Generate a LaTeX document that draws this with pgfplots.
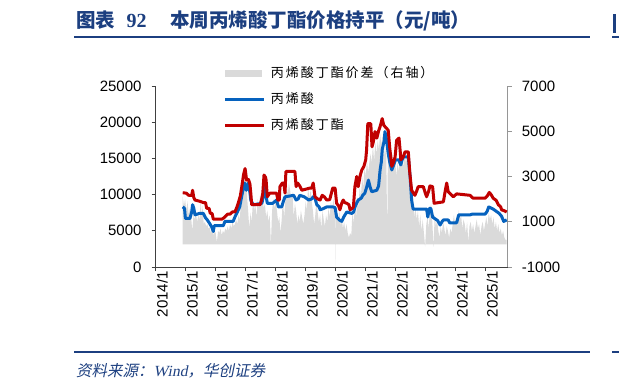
\documentclass[border=0pt]{standalone}
\usepackage{pgfplots}
\pgfplotsset{compat=1.18}
\usepackage{fontspec}
\setmainfont{Liberation Sans}
\newfontfamily\tnr{Liberation Serif}
\newfontfamily\cjk{Noto Sans CJK SC}
\newfontfamily\cjksp{Noto Sans CJK SC}[LetterSpace=15]
\newfontfamily\cjkit{Noto Sans CJK SC}[FakeSlant=0.2]
\newfontfamily\tnrit{Liberation Serif}[FakeSlant=0.2]
\definecolor{titleblue}{RGB}{28,63,128}
\definecolor{areagray}{RGB}{218,218,218}
\definecolor{lblue}{RGB}{6,98,190}
\definecolor{lred}{RGB}{192,0,0}
\definecolor{axgray}{RGB}{150,150,150}

\pgfplotstableread{
x y
2014.90 0
2014.90 2100
2014.94 1700
2014.98 2000
2015.02 1500
2015.06 1900
2015.10 1300
2015.14 1600
2015.18 1200
2015.22 600
2015.26 1300
2015.30 1100
2015.34 1400
2015.38 1000
2015.42 1300
2015.46 1100
2015.50 1900
2015.53 1200
2015.56 1700
2015.60 900
2015.64 1000
2015.68 800
2015.72 900
2015.76 700
2015.80 750
2015.84 500
2015.88 700
2015.92 400
2015.96 600
2016.00 500
2016.04 100
2016.08 600
2016.12 500
2016.16 700
2016.20 400
2016.24 600
2016.28 500
2016.32 700
2016.36 600
2016.40 800
2016.44 600
2016.48 900
2016.52 700
2016.56 1000
2016.60 800
2016.64 900
2016.68 1100
2016.72 900
2016.76 1300
2016.80 1100
2016.84 1800
2016.88 2400
2016.92 3300
2016.96 2700
2017.00 3000
2017.04 2200
2017.08 1500
2017.12 700
2017.16 1400
2017.20 1000
2017.24 1900
2017.28 1500
2017.32 1800
2017.36 1200
2017.40 2000
2017.44 1600
2017.48 2200
2017.52 1900
2017.56 2200
2017.60 1600
2017.64 1800
2017.68 1200
2017.72 1500
2017.76 1000
2017.80 1300
2017.84 0
2017.88 1500
2017.92 2000
2017.96 1600
2018.00 1900
2018.04 1500
2018.08 1000
2018.12 1200
2018.16 500
2018.20 1100
2018.24 2100
2018.28 1200
2018.32 1900
2018.36 2800
2018.40 2200
2018.44 2700
2018.48 2400
2018.52 2000
2018.56 2300
2018.60 1200
2018.64 1800
2018.68 1500
2018.72 900
2018.76 1300
2018.80 1000
2018.84 1500
2018.88 1200
2018.92 900
2018.96 1300
2019.00 1900
2019.04 1500
2019.08 2600
2019.12 2000
2019.16 2400
2019.20 1900
2019.24 1500
2019.28 900
2019.32 1300
2019.36 2000
2019.40 1400
2019.44 1000
2019.48 1300
2019.52 700
2019.56 1500
2019.60 1100
2019.64 800
2019.68 1300
2019.72 1000
2019.76 1600
2019.80 1200
2019.84 1900
2019.88 1500
2019.92 2000
2019.96 1700
2019.99 1500
2020.00 -1000
2020.01 1400
2020.04 1400
2020.08 1000
2020.12 1500
2020.16 800
2020.20 1200
2020.24 700
2020.28 1000
2020.32 600
2020.36 900
2020.40 500
2020.44 300
2020.48 500
2020.52 400
2020.56 1500
2020.60 900
2020.64 1800
2020.68 1200
2020.72 2100
2020.76 1600
2020.80 2600
2020.84 2100
2020.88 3000
2020.92 2500
2020.96 3400
2021.00 3000
2021.04 3700
2021.08 3200
2021.12 3600
2021.16 4000
2021.20 3600
2021.24 4400
2021.28 3700
2021.32 4500
2021.36 4000
2021.40 4600
2021.44 4200
2021.48 4900
2021.52 4400
2021.56 4800
2021.60 4500
2021.64 3900
2021.68 4400
2021.72 300
2021.74 4200
2021.78 3700
2021.82 4300
2021.86 3600
2021.90 4000
2021.94 3300
2021.98 3800
2022.02 3000
2022.06 3600
2022.10 3200
2022.14 4000
2022.18 3500
2022.22 3900
2022.26 3400
2022.30 4000
2022.34 3600
2022.38 3900
2022.42 3400
2022.46 3700
2022.50 2000
2022.54 1500
2022.58 2100
2022.62 1200
2022.66 1600
2022.70 1100
2022.74 1500
2022.78 800
2022.82 1300
2022.86 600
2022.90 1100
2022.94 500
2022.98 -100
2023.02 900
2023.06 1200
2023.10 700
2023.14 1500
2023.18 1800
2023.22 1000
2023.26 -100
2023.30 1300
2023.34 800
2023.38 1100
2023.42 600
2023.46 300
2023.50 800
2023.54 500
2023.58 1000
2023.62 700
2023.66 400
2023.70 800
2023.74 600
2023.78 300
2023.82 700
2023.86 500
2023.90 900
2023.94 1300
2023.98 900
2024.02 1200
2024.06 800
2024.10 1500
2024.14 1100
2024.18 1300
2024.22 700
2024.26 1100
2024.30 900
2024.34 500
2024.38 1000
2024.42 100
2024.46 800
2024.50 1000
2024.54 600
2024.58 900
2024.62 500
2024.66 800
2024.70 1100
2024.74 700
2024.78 900
2024.82 400
2024.86 800
2024.90 1000
2024.94 600
2024.98 900
2025.02 1200
2025.06 800
2025.10 1400
2025.14 1100
2025.18 1300
2025.22 900
2025.26 1200
2025.30 700
2025.34 1000
2025.38 600
2025.42 900
2025.46 500
2025.50 700
2025.54 400
2025.58 600
2025.62 300
2025.66 200
2025.70 200
2025.70 0
}\spread

\pgfplotstableread{
x y
2014.90 10260
2015.02 10200
2015.10 9900
2015.20 9900
2015.23 10600
2015.27 9600
2015.31 9250
2015.45 9100
2015.59 8900
2015.66 8900
2015.70 8100
2015.78 8100
2015.82 7400
2015.88 7400
2015.92 6600
2016.20 6600
2016.28 6800
2016.40 7300
2016.48 7300
2016.55 7600
2016.64 7600
2016.70 8200
2016.75 8800
2016.82 9800
2016.87 11100
2016.93 12800
2016.98 13600
2017.03 12000
2017.09 12100
2017.14 11500
2017.17 10200
2017.20 8600
2017.48 8600
2017.53 9300
2017.57 10200
2017.61 12700
2017.66 12400
2017.68 12000
2017.72 9700
2017.80 10200
2018.03 10200
2018.07 9250
2018.12 9250
2018.14 11100
2018.22 11600
2018.27 11600
2018.31 10200
2018.34 13200
2018.64 13200
2018.68 11100
2018.73 11600
2018.80 11200
2018.87 10600
2019.14 10900
2019.20 10900
2019.25 11600
2019.31 9700
2019.40 9400
2019.48 9250
2019.55 9900
2019.62 9700
2019.70 9250
2019.80 9300
2019.90 10900
2019.98 10900
2020.03 8800
2020.10 8400
2020.14 7900
2020.20 8800
2020.25 9250
2020.30 8900
2020.37 8800
2020.44 8600
2020.48 7900
2020.55 8100
2020.59 8300
2020.64 11100
2020.70 12500
2020.75 11100
2020.82 12700
2020.87 13400
2020.94 13900
2021.00 14800
2021.03 16200
2021.07 19800
2021.17 19800
2021.21 16600
2021.25 17200
2021.31 18700
2021.37 17800
2021.43 18800
2021.48 19400
2021.52 20000
2021.55 20500
2021.60 19600
2021.64 19400
2021.75 18900
2021.80 16500
2021.87 13900
2021.93 14500
2021.98 15200
2022.03 17500
2022.11 17800
2022.15 16000
2022.17 14800
2022.25 15200
2022.31 15900
2022.42 15900
2022.47 13000
2022.53 10600
2022.64 9900
2022.70 10500
2022.75 11100
2022.92 11100
2022.98 10300
2023.03 9700
2023.10 10500
2023.14 11200
2023.23 11100
2023.28 8800
2023.59 9000
2023.65 10500
2023.70 11600
2023.75 10400
2023.85 10000
2023.92 9700
2024.03 10100
2024.48 9900
2024.55 9600
2024.59 9500
2024.98 9500
2025.05 9800
2025.12 10300
2025.18 10000
2025.25 9500
2025.35 9200
2025.42 8600
2025.50 8300
2025.53 7900
2025.60 7800
2025.70 7600
}\ba

\pgfplotstableread{
x y
2014.90 8300
2014.96 8100
2014.99 6700
2015.14 6700
2015.20 7600
2015.23 8600
2015.27 8100
2015.31 7200
2015.45 7400
2015.59 7400
2015.66 6800
2015.72 6500
2015.80 6000
2015.87 5500
2015.92 4900
2015.95 5700
2016.25 5700
2016.31 6300
2016.58 6300
2016.64 6900
2016.70 7400
2016.80 8300
2016.90 10500
2016.97 11600
2017.02 10600
2017.09 11600
2017.14 10300
2017.17 9250
2017.25 8600
2017.54 8800
2017.60 10000
2017.64 11100
2017.68 9800
2017.72 8800
2017.90 8800
2018.03 9250
2018.09 8300
2018.20 8300
2018.25 9000
2018.31 9700
2018.60 9900
2018.68 9250
2018.75 9400
2018.80 9900
2018.95 9700
2019.10 9250
2019.20 9400
2019.25 9700
2019.31 9500
2019.37 8600
2019.45 8300
2019.48 7900
2019.55 8000
2019.70 8300
2019.90 8300
2019.98 8200
2020.03 6900
2020.12 6500
2020.20 6300
2020.28 7000
2020.37 7600
2020.45 7500
2020.54 7400
2020.60 7600
2020.64 8300
2020.75 9250
2020.85 9500
2020.90 9900
2020.97 10200
2021.03 11000
2021.09 12000
2021.15 11000
2021.20 10400
2021.37 10600
2021.43 11200
2021.48 13400
2021.52 14500
2021.55 16200
2021.62 17500
2021.64 18700
2021.68 18000
2021.75 15700
2021.80 14500
2021.87 13400
2021.95 14300
2021.99 14800
2022.10 14800
2022.17 14100
2022.20 14600
2022.25 15200
2022.42 15200
2022.48 12500
2022.53 9250
2022.58 8000
2023.03 8000
2023.07 6900
2023.12 8100
2023.17 8100
2023.23 6900
2023.40 6400
2023.48 5800
2023.55 6300
2023.59 6500
2023.75 6500
2023.80 6100
2024.03 6100
2024.10 7200
2024.48 7200
2024.55 7300
2024.98 7300
2025.05 7700
2025.10 8300
2025.20 8100
2025.25 8000
2025.35 7700
2025.45 7400
2025.53 7000
2025.60 6300
2025.70 6500
}\aa

\begin{document}
\begin{tikzpicture}
\path[use as bounding box] (0pt,0pt) rectangle (619pt,389pt);

% title
\node[anchor=base west, inner sep=0pt, text=titleblue, font=\cjk\bfseries\fontsize{19.5}{19.5}\selectfont] at (76pt,361.5pt) {图表};
\node[anchor=base west, inner sep=0pt, text=titleblue, font=\tnr\bfseries\fontsize{20}{20}\selectfont] at (126.5pt,361.5pt) {92};
\node[anchor=base west, inner sep=0pt, text=titleblue, font=\cjk\bfseries\fontsize{19.5}{19.5}\selectfont] at (170pt,361.5pt) {本周丙烯酸丁酯价格持平（元/吨）};
\draw[titleblue, line width=2pt] (74pt,352.3pt) -- (590pt,352.3pt);
\draw[titleblue, line width=2pt] (612pt,352.3pt) -- (619pt,352.3pt);
\fill[titleblue] (613pt,356pt) rectangle (616pt,375pt);

% footer
\draw[titleblue, line width=2pt] (74pt,37pt) -- (590pt,37pt);
\draw[titleblue, line width=2pt] (612pt,37pt) -- (619pt,37pt);
\node[anchor=base west, inner sep=0pt, text=titleblue, font=\fontsize{15.5}{15.5}\selectfont] at (76pt,13pt) {{\cjkit 资料来源：}{\tnrit Wind}{\cjkit ，华创证券}};

% right axis with spread area
\begin{axis}[
  at={(155.7pt,122pt)}, anchor=south west, scale only axis,
  width=352pt, height=181pt,
  xmin=2014, xmax=2025.733, ymin=-1000, ymax=7000,
  axis x line=none, axis y line*=right,
  y axis line style={axgray, line width=0.8pt},
  ytick={-1000,1000,3000,5000,7000},
  tick align=outside, major tick length=4pt,
  ytick style={axgray, line width=0.8pt},
  scaled y ticks=false,
  yticklabel style={font=\fontsize{15}{15}\selectfont, /pgf/number format/1000 sep={}, /pgf/number format/assume math mode=true, inner sep=0pt, anchor=west, xshift=10pt},
]
\addplot[fill=areagray, draw=none] table[x=x,y=y] {\spread};
\end{axis}

% left axis with lines
\begin{axis}[
  at={(155.7pt,122pt)}, anchor=south west, scale only axis,
  width=352pt, height=181pt,
  xmin=2014, xmax=2025.733, ymin=0, ymax=25000,
  axis x line*=bottom, axis y line*=left,
  axis line style={black!75, line width=0.8pt},
  xtick={2014,2015,...,2025},
  xticklabels={2014/1,2015/1,2016/1,2017/1,2018/1,2019/1,2020/1,2021/1,2022/1,2023/1,2024/1,2025/1},
  xticklabel style={rotate=90, anchor=east, font=\fontsize{15}{15}\selectfont, inner sep=0pt, yshift=-6.5pt},
  ytick={0,5000,...,25000},
  tick align=outside, major tick length=4pt,
  tick style={black!75, line width=0.8pt},
  scaled y ticks=false,
  yticklabel style={font=\fontsize{15}{15}\selectfont, /pgf/number format/1000 sep={}, /pgf/number format/assume math mode=true, inner sep=0pt, anchor=east, xshift=-10pt},
  legend style={at={(0.194,1.105)}, anchor=north west, draw=none, fill=none,
    font=\cjksp\fontsize{13}{13}\selectfont, inner sep=0pt, outer sep=0pt,
    row sep=13pt, column sep=5pt,
    nodes={inner sep=0pt, text height=10.5pt, text depth=2.5pt},
    cells={anchor=west}},
  legend cell align=left,
]
\addlegendimage{area legend, fill=areagray, draw=none, legend image code/.code={\fill[areagray] (0pt,-3.8pt) rectangle (37pt,3.8pt);}}
\addlegendentry{丙烯酸丁酯价差（右轴）}
\addplot[lblue, line width=3pt, line join=round, legend image code/.code={\draw[lblue, line width=3pt] (0pt,0pt) -- (39pt,0pt);}] table[x=x,y=y] {\aa};
\addlegendentry{丙烯酸}
\addplot[lred, line width=3pt, line join=round, legend image code/.code={\draw[lred, line width=3pt] (0pt,0pt) -- (39pt,0pt);}] table[x=x,y=y] {\ba};
\addlegendentry{丙烯酸丁酯}
\end{axis}
\end{tikzpicture}
\end{document}
